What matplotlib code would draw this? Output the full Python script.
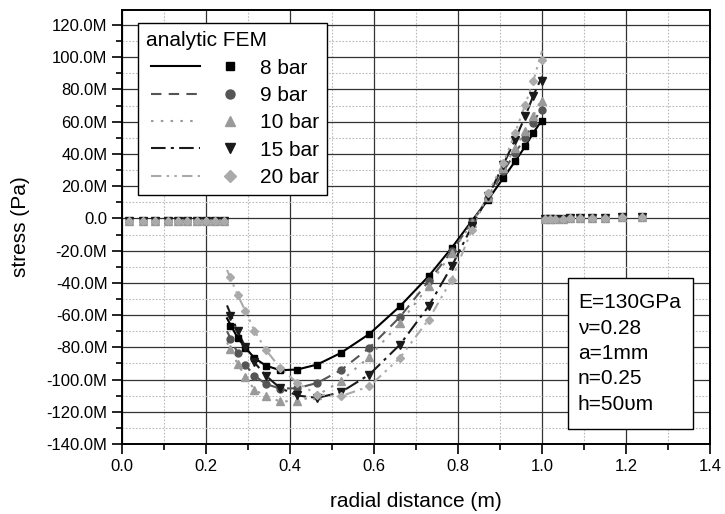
import matplotlib
matplotlib.use("Agg")
import matplotlib.pyplot as plt
from matplotlib.ticker import MultipleLocator, FuncFormatter
from matplotlib.legend_handler import HandlerTuple
from matplotlib.patches import Rectangle

plt.rcParams['font.family'] = ['Liberation Sans', 'DejaVu Sans']

# FEM sample positions (m) along the loaded part
x_fem = [0.256, 0.275, 0.294, 0.315, 0.342, 0.376, 0.417, 0.465, 0.521, 0.589,
         0.662, 0.730, 0.785, 0.833, 0.872, 0.908, 0.936, 0.960, 0.979, 0.999]

# FEM stress values (MPa)
fem_8 = [-66.9, -74.0, -80.3, -86.6, -91.3, -94.2, -93.8, -90.7, -83.5, -71.7,
         -54.5, -35.9, -18.3, -1.5, 11.7, 25.1, 35.4, 44.7, 53.0, 60.2]
fem_9 = [-74.8, -83.5, -91.1, -97.5, -102.7, -105.6, -105.4, -102.1, -94.2, -80.3,
         -61.1, -39.0, -20.4, -2.5, 12.5, 29.2, 40.6, 49.9, 59.2, 67.5]
fem_10 = [-81.0, -90.1, -98.3, -106.2, -110.4, -113.5, -113.5, -109.7, -101.0, -85.9,
          -64.8, -42.1, -21.4, -3.0, 13.5, 31.3, 43.7, 54.0, 63.3, 72.7]
fem_15 = [-60.7, -70.0, -80.0, -89.3, -97.5, -105.2, -109.9, -111.4, -107.9, -96.9,
          -78.3, -54.5, -29.7, -5.0, 13.7, 33.4, 48.9, 63.3, 76.0, 85.0]
fem_20 = [-36.3, -47.3, -57.6, -69.6, -81.4, -92.7, -102.1, -109.3, -110.4, -104.2,
          -86.5, -62.8, -38.0, -7.0, 15.8, 34.4, 53.0, 70.6, 85.0, 98.5]

# analytic curves (MPa), from r = 0.25 to r = 1.0
x_ana = [0.25] + x_fem[1:-1] + [1.0]
ana_8 = [-62.0] + fem_8[1:-1] + [61.0]
ana_9 = [-70.0] + fem_9[1:-1] + [69.0]
ana_10 = [-77.0] + fem_10[1:-1] + [75.0]
ana_15 = [-54.0] + fem_15[1:-1] + [88.0]
ana_20 = [-32.0] + fem_20[1:-1] + [104.0]

# FEM points outside the loaded region (MPa)
x_zero_l = [0.017, 0.049, 0.079, 0.110, 0.134, 0.155, 0.178, 0.200, 0.221, 0.243]
y_zero_l = [-1.5] * 10
x_zero_r = [1.007, 1.019, 1.031, 1.049, 1.067, 1.090, 1.118, 1.150, 1.190, 1.237]
y_zero_r = [-0.5, -0.4, -0.3, -0.2, 0.0, 0.1, 0.3, 0.5, 0.8, 1.0]

labels = ['8 bar', '9 bar', '10 bar', '15 bar', '20 bar']
fem = [fem_8, fem_9, fem_10, fem_15, fem_20]
ana = [ana_8, ana_9, ana_10, ana_15, ana_20]

colors = ['#000000', '#555555', '#9a9a9a', '#1a1a1a', '#aaaaaa']
styles = ['-', (0, (5, 3.5)), (0, (1.2, 3.5)), (0, (7, 2.5, 1.5, 2.5)),
          (0, (5, 2.5, 1.2, 2.5, 1.2, 2.5))]
markers = ['s', 'o', '^', 'v', 'D']
msizes = [4.5, 5, 5.5, 5.5, 4.5]

fig = plt.figure(figsize=(7.25, 5.14), dpi=100)
ax = fig.add_axes([0.1683, 0.1362, 0.8110, 0.8443])

handles = []
for i in range(5):
    ln, = ax.plot(x_ana, [v * 1e6 for v in ana[i]], color=colors[i], linestyle=styles[i],
                  linewidth=1.5, zorder=3)
    mk, = ax.plot(x_fem, [v * 1e6 for v in fem[i]], color=colors[i], marker=markers[i],
                  markersize=msizes[i], linestyle='none', zorder=4)
    ax.plot(x_zero_l, [v * 1e6 for v in y_zero_l], color=colors[i], marker=markers[i],
            markersize=msizes[i], linestyle='none', zorder=4)
    ax.plot(x_zero_r, [v * 1e6 for v in y_zero_r], color=colors[i], marker=markers[i],
            markersize=msizes[i], linestyle='none', zorder=4)
    handles.append((ln, mk))

ax.set_xlim(0, 1.4)
ax.set_ylim(-140e6, 129.3e6)

ax.xaxis.set_major_locator(MultipleLocator(0.2))
ax.xaxis.set_minor_locator(MultipleLocator(0.1))
ax.yaxis.set_major_locator(MultipleLocator(20e6))
ax.yaxis.set_minor_locator(MultipleLocator(10e6))
ax.xaxis.set_major_formatter(FuncFormatter(lambda v, p: f"{v:.1f}"))
ax.yaxis.set_major_formatter(FuncFormatter(
    lambda v, p: "0.0" if abs(v) < 1 else f"{v / 1e6:.1f}M"))

ax.grid(which='major', color='#333333', linewidth=0.9, linestyle='-')
ax.grid(which='minor', color='#bbbbbb', linewidth=0.8, linestyle=(0, (1.5, 1.5)))
ax.set_axisbelow(True)

ax.tick_params(which='both', direction='out', top=False, right=False, labelsize=12,
               width=1.2)
ax.tick_params(which='major', length=7)
ax.tick_params(which='minor', length=4)
for s in ax.spines.values():
    s.set_linewidth(1.4)

ax.set_xlabel('radial distance (m)', fontsize=15, labelpad=13)
ax.set_ylabel('stress (Pa)', fontsize=15, labelpad=12)

leg = ax.legend(handles, labels, title='analytic FEM', loc='upper left',
                bbox_to_anchor=(0.027, 0.970), borderaxespad=0, fontsize=15,
                title_fontsize=15, alignment='left', handlelength=5.2,
                handletextpad=0.26, labelspacing=0.4, borderpad=0.4,
                markerscale=1.3, fancybox=False, framealpha=1, edgecolor='black',
                handler_map={tuple: HandlerTuple(ndivide=None, pad=0.25, xpad=0.22)})
leg.get_frame().set_linewidth(1.0)
leg.set_zorder(10)

# parameter box
ax.add_patch(Rectangle((0.7585, 0.0346), 0.2126, 0.3479, transform=ax.transAxes,
                       facecolor='white', edgecolor='black', linewidth=1.0, zorder=9))
ax.text(0.7755, 0.2085, 'E=130GPa\nν=0.28\na=1mm\nn=0.25\nh=50υm',
        transform=ax.transAxes, fontsize=15, va='center', ha='left', linespacing=1.43,
        zorder=10)

fig.savefig('out.png', dpi=100)
